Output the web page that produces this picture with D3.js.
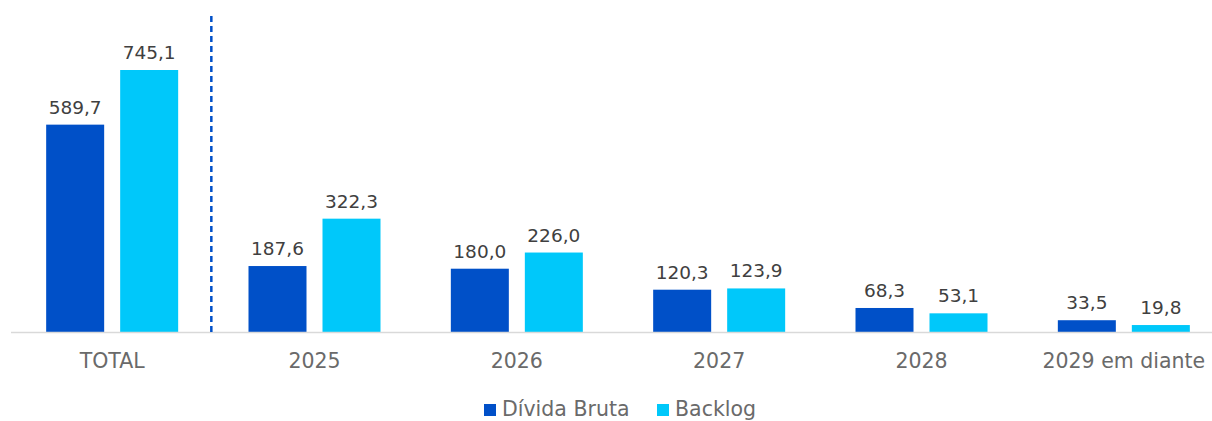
<!DOCTYPE html>
<html>
<head>
<meta charset="utf-8">
<script src="https://cdn.jsdelivr.net/npm/d3@7"></script>
<style>
  body { margin: 0; background: #fff; }
  text { font-family: "DejaVu Sans", "Noto Sans", sans-serif; }
</style>
</head>
<body>
<div id="chart"></div>
<script>
// categories and series
var categories = ["TOTAL", "2025", "2026", "2027", "2028", "2029 em diante"];
var divida = [589.7, 187.6, 180.0, 120.3, 68.3, 33.5];
var backlog = [745.1, 322.3, 226.0, 123.9, 53.1, 19.8];
var seriesNames = ["Dívida Bruta", "Backlog"];
var colors = ["#0050C8", "#00C8FA"];

var W = 1212, H = 421;
var svg = d3.select("#chart").append("svg").attr("width", W).attr("height", H);

var base = 332;
var x = d3.scaleBand().domain(categories).range([11, 1225]);
var y = d3.scaleLinear().domain([0, 745.1]).range([base, 70]);
var barW = 58, gap = 16;

var fmt = function (v) { return d3.format(".1f")(v).replace(".", ","); };

// bars, one group per series
[divida, backlog].forEach(function (vals, si) {
  var off = si === 0 ? -gap / 2 - barW : gap / 2;
  var g = svg.append("g");
  g.selectAll("rect").data(vals).enter().append("rect")
    .attr("x", function (d, i) { return x(categories[i]) + x.bandwidth() / 2 + off; })
    .attr("y", function (d) { return y(d); })
    .attr("width", barW)
    .attr("height", function (d) { return base - y(d); })
    .attr("fill", colors[si]);
  g.selectAll("text").data(vals).enter().append("text")
    .attr("x", function (d, i) { return x(categories[i]) + x.bandwidth() / 2 + off + barW / 2; })
    .attr("y", function (d) { return y(d) - 11; })
    .attr("text-anchor", "middle")
    .style("font-size", "18.5px")
    .attr("fill", "#404040")
    .text(fmt);
});

// axis line
svg.append("line").attr("x1", 11).attr("x2", W).attr("y1", base + 0.5).attr("y2", base + 0.5)
  .attr("stroke", "#d9d9d9").attr("stroke-width", 1.5);

// category labels
svg.selectAll("text.cat").data(categories).enter().append("text")
  .attr("class", "cat")
  .attr("x", function (d) { return x(d) + x.bandwidth() / 2; })
  .attr("y", 368)
  .attr("text-anchor", "middle")
  .style("font-size", "20.5px")
  .attr("fill", "#6a6a6a")
  .text(function (d) { return d; });

// dashed separator between TOTAL and yearly values
var sepX = (x("TOTAL") + x.bandwidth() + x("2025")) / 2 - 2;
svg.append("line").attr("x1", sepX).attr("x2", sepX).attr("y1", 16).attr("y2", base)
  .attr("stroke", "#0050C8").attr("stroke-width", 2.5).attr("stroke-dasharray", "6,4");

// legend
var legend = svg.append("g");
var lx = [484, 657];
seriesNames.forEach(function (n, i) {
  legend.append("rect").attr("x", lx[i]).attr("y", 404).attr("width", 12).attr("height", 12).attr("fill", colors[i]);
  legend.append("text").attr("x", lx[i] + 18).attr("y", 416)
    .style("font-size", "20.5px").attr("fill", "#6a6a6a").text(n);
});
</script>
</body>
</html>
